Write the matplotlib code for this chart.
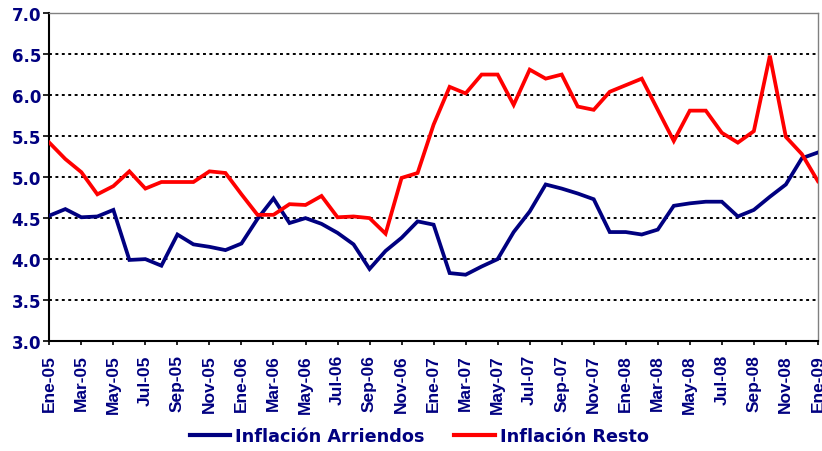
import matplotlib
matplotlib.use("Agg")
import matplotlib.pyplot as plt

plt.rcParams['font.family'] = ['Liberation Sans', 'DejaVu Sans']

month_names = ["Ene", "Feb", "Mar", "Abr", "May", "Jun",
               "Jul", "Ago", "Sep", "Oct", "Nov", "Dic"]
years = ["05", "06", "07", "08", "09"]
categories = [f"{m}-{y}" for y in years for m in month_names][:49]

arriendos = [4.53, 4.61, 4.51, 4.52, 4.60, 3.99, 4.00, 3.92, 4.30, 4.18,
             4.15, 4.11, 4.19, 4.49, 4.74, 4.44, 4.50, 4.43, 4.32, 4.18,
             3.88, 4.10, 4.26, 4.46, 4.42, 3.83, 3.81, 3.91, 4.00, 4.33,
             4.58, 4.91, 4.86, 4.80, 4.73, 4.33, 4.33, 4.30, 4.36, 4.65,
             4.68, 4.70, 4.70, 4.52, 4.60, 4.76, 4.91, 5.23, 5.30]
resto = [5.42, 5.22, 5.06, 4.79, 4.89, 5.07, 4.86, 4.94, 4.94, 4.94,
         5.07, 5.05, 4.79, 4.54, 4.54, 4.67, 4.66, 4.77, 4.51, 4.52,
         4.50, 4.31, 4.99, 5.05, 5.64, 6.10, 6.02, 6.25, 6.25, 5.88,
         6.31, 6.20, 6.25, 5.86, 5.82, 6.04, 6.12, 6.20, 5.82, 5.44,
         5.81, 5.81, 5.54, 5.42, 5.56, 6.48, 5.49, 5.28, 4.95]
series_names = ["Inflación Arriendos", "Inflación Resto"]
yticks = [3.0, 3.5, 4.0, 4.5, 5.0, 5.5, 6.0, 6.5, 7.0]

navy = "#000080"
red = "#FF0000"

fig = plt.figure(figsize=(8.22, 4.52), dpi=100)
ax = fig.add_axes([0.06, 0.243, 0.935, 0.726])

x = list(range(len(categories)))
ax.plot(x, arriendos, color=navy, lw=2.7, label=series_names[0], zorder=3,
        solid_joinstyle="miter")
ax.plot(x, resto, color=red, lw=2.7, label=series_names[1], zorder=3,
        solid_joinstyle="miter")

ax.set_xlim(0, len(categories) - 1)
ax.set_ylim(3.0, 7.0)
ax.set_yticks(yticks)
ax.set_yticklabels([f"{v:.1f}" for v in yticks], fontsize=12,
                   fontweight="bold", color=navy, family="DejaVu Sans")
ax.set_xticks(x[::2])
ax.set_xticklabels(categories[::2], rotation=90, fontsize=12.5,
                   fontweight="bold", color=navy)

for v in yticks[1:]:
    ax.axhline(v, color="black", lw=1.4, ls=(0, (1.5, 1.8)), zorder=1)

for s in ["left", "bottom"]:
    ax.spines[s].set_color("black")
    ax.spines[s].set_linewidth(1.5)
for s in ["top", "right"]:
    ax.spines[s].set_color("#808080")
    ax.spines[s].set_linewidth(1.0)

ax.tick_params(axis="x", direction="out", length=3.2, width=1.2,
               color="black", pad=6.2)
ax.tick_params(axis="y", direction="out", length=4, width=1.2,
               color="black", pad=2)

leg = fig.legend(loc="center", bbox_to_anchor=(0.51, 0.033), ncol=2,
                 frameon=False, handlelength=2.27, handletextpad=0.3,
                 columnspacing=1.7,
                 prop={"weight": "bold", "size": 12.7, "family": "DejaVu Sans"})
for t in leg.get_texts():
    t.set_color(navy)
for h in leg.legend_handles:
    h.set_linewidth(3)

fig.savefig("out.png", dpi=100)
